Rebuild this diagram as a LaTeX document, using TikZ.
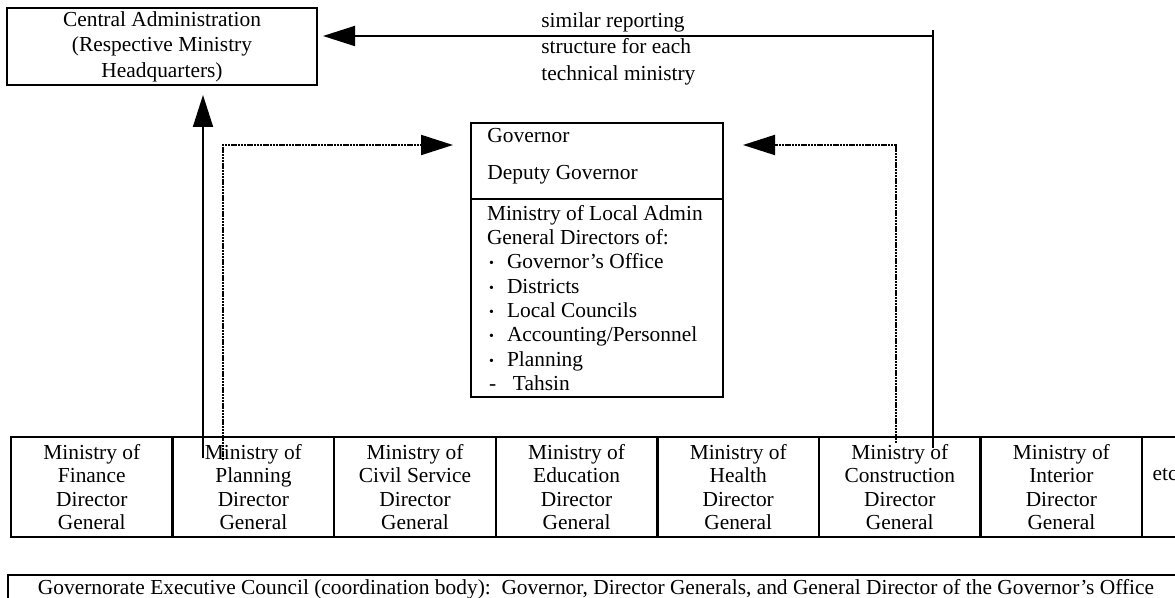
\documentclass[tikz,border=0pt]{standalone}
\usepackage{fontspec}
\setmainfont{Liberation Serif}
\usepackage{tikz}
\usepackage{xcolor}
\usetikzlibrary{positioning,arrows.meta}

\newcommand{\itemdot}{\hspace*{1pt}\makebox[9pt][l]{\raisebox{0.5pt}{\scriptsize\textbullet}}}

\begin{document}
\begin{tikzpicture}[x=0.5pt, y=-0.5pt,
    box/.style={draw, line width=1.2pt, inner sep=0pt, outer sep=0pt},
    cell/.style={box, minimum width=80.8pt, minimum height=50pt, align=center,
        font=\fontsize{10.7}{11.75}\selectfont},
    link/.style={line width=0.9pt},
    dotlink/.style={line width=1pt, dash pattern=on 1.2pt off 0.4pt},
    tip/.style={-{Triangle[length=16pt, width=10pt]}}]
    \useasboundingbox (0,0) rectangle (1175,598);

    % Central administration
    \node[box, minimum width=155pt, minimum height=38.5pt, align=center,
        font=\fontsize{10.7}{12.8}\selectfont] (cadm) at (162,46.5)
        {Central Administration\\(Respective Ministry\\Headquarters)};
    \node[anchor=west, align=left, inner sep=0pt,
        font=\fontsize{10.7}{13.25}\selectfont] (note) at (541,48.5)
        {similar reporting\\structure for each\\technical ministry};

    % Governor box
    \node[box, minimum width=126pt, minimum height=38pt] (gov) at (597,161) {};
    \node[anchor=north west, align=left, inner sep=0pt,
        font=\fontsize{10.7}{12.2}\selectfont] (govtxt) at (487,128)
        {Governor\\[6.5pt]Deputy Governor};
    \node[box, minimum width=126pt, minimum height=99pt, text width=110pt,
        inner xsep=8pt, align=flush left, font=\fontsize{10.7}{12.15}\selectfont] (lad) at (597,298)
        {Ministry of Local Admin\\
         General Directors of:\\
         \itemdot Governor's Office\\
         \itemdot Districts\\
         \itemdot Local Councils\\
         \itemdot Accounting/Personnel\\
         \itemdot Planning\\
         \hspace*{1pt}\makebox[12pt][l]{-}Tahsin};

    % Ministries row
    \node[cell, anchor=west] (fin) at (11,487) {Ministry of\\Finance\\Director\\General};
    \node[cell, right=0pt of fin] (pla) {Ministry of\\Planning\\Director\\General};
    \node[cell, right=0pt of pla] (civ) {Ministry of\\Civil Service\\Director\\General};
    \node[cell, right=0pt of civ] (edu) {Ministry of\\Education\\Director\\General};
    \node[cell, right=0pt of edu] (hea) {Ministry of\\Health\\Director\\General};
    \node[cell, right=0pt of hea] (con) {Ministry of\\Construction\\Director\\General};
    \node[cell, right=0pt of con] (int) {Ministry of\\Interior\\Director\\General};
    \node[cell, right=0pt of int, minimum width=23pt] (etc) {\raisebox{13pt}{etc}};

    % Executive council
    \node[box, anchor=north west, minimum width=588pt, minimum height=14pt,
        font=\fontsize{10.7}{12}\selectfont] (cncl) at (8,575)
        {Governorate Executive Council (coordination body):\ \ Governor, Director Generals, and General Director of the Governor's Office};

    % Reporting lines
    \coordinate (rtop) at (933,30);
    \coordinate (rbot) at (933,448);
    \coordinate (rjoin) at (933,36);
    \draw[link] (rbot) -- (rtop);
    \draw[link, tip, shorten >=3pt] (rjoin) -- (rjoin -| cadm.east);

    \coordinate (fup) at (203,458);
    \draw[link, tip, shorten >=5pt] (fup) -- (fup |- cadm.south);

    % Dotted lines to governor
    \coordinate (lbot) at (223,460);
    \coordinate (lcorner) at (223,145);
    \draw[dotlink, tip, shorten >=9pt] (lbot) -- (lcorner) -- (lcorner -| gov.west);

    \coordinate (rdbot) at (896,443);
    \coordinate (rdcorner) at (896,145);
    \draw[dotlink, tip, shorten >=10pt] (rdbot) -- (rdcorner) -- (rdcorner -| gov.east);
\end{tikzpicture}
\end{document}
